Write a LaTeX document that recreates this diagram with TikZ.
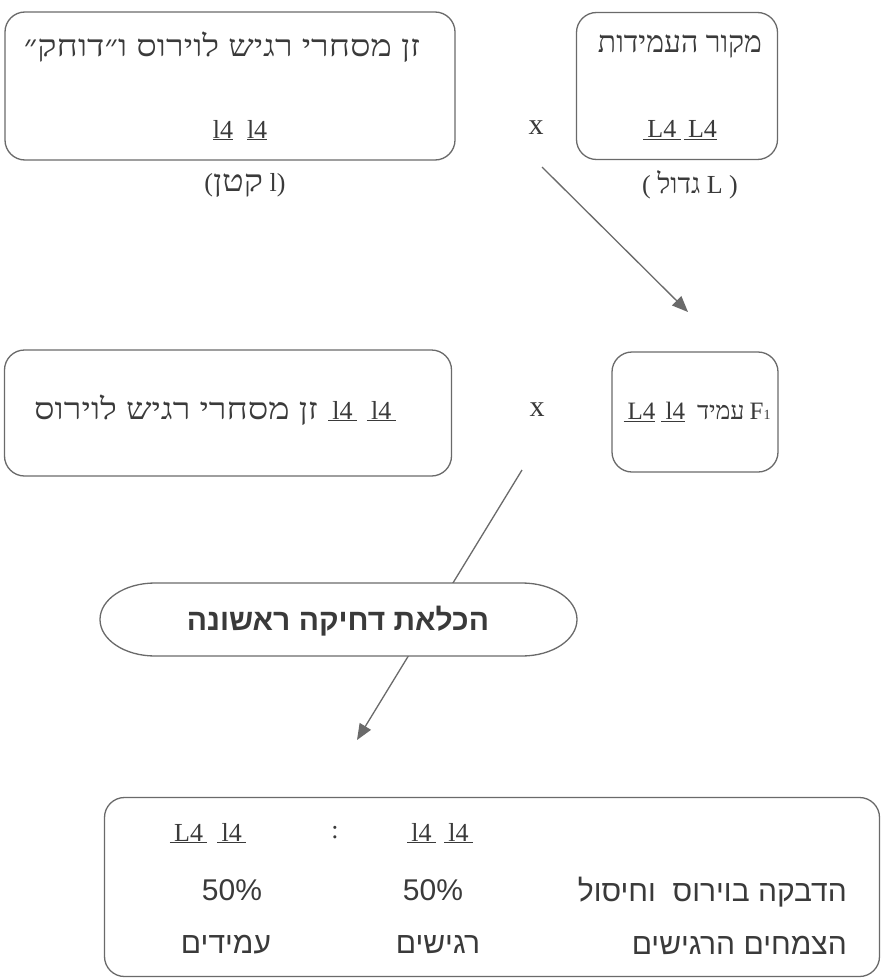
\documentclass[tikz,border=0pt]{standalone}
\usepackage{fontspec}
\setmainfont{Liberation Serif}
\newfontfamily\hebserif[Script=Hebrew]{Liberation Serif}
\newfontfamily\hebwide[Script=Hebrew, FakeStretch=1.2]{Liberation Serif}
\newfontfamily\hebsans[Script=Hebrew]{Liberation Sans}
\TeXXeTstate=1
\usetikzlibrary{arrows.meta}
\definecolor{ink}{HTML}{3A3A3A}
\definecolor{edge}{HTML}{6A6A6A}
\newcommand{\hbs}[1]{{\hebwide\fontsize{30}{34}\selectfont\beginR #1\endR}}
\newcommand{\hbn}[1]{{\hebserif\beginR #1\endR}}
\newcommand{\gul}[1]{\underline{#1}}
\begin{document}
\begin{tikzpicture}[x=1pt,y=-1pt,
  frame/.style={draw=edge, line width=1.3pt, rounded corners=20pt, inner sep=0pt},
  lbl/.style={text=ink, inner sep=0pt, font=\fontsize{26}{30}\selectfont},
  sans/.style={text=ink, inner sep=0pt, font=\fontsize{30}{34}\selectfont\hebsans},
  link/.style={draw=edge, line width=1.3pt},
  tip/.style={-{Triangle[length=16pt,width=13pt]}}
]
\fill[white] (0,0) rectangle (892,979);
\useasboundingbox (0,0) rectangle (892,979);

% top row
\node[frame, minimum width=450pt, minimum height=148pt] (b1) at (230,86) {};
\node[lbl] (t1) at (222,47) {\hbs{זן מסחרי רגיש לוירוס ו״דוחק״}};
\node[lbl] (t2) at (240,130) {\gul{l4}\hspace{14pt}\gul{l4}};
\node[frame, minimum width=201pt, minimum height=147pt] (b2) at (677,86) {};
\node[lbl, font=\fontsize{30}{34}\selectfont] (t3) at (680,47) {\hbn{מקור העמידות}};
\node[lbl] (t4) at (680,130) {\gul{\,L4\,}\hspace{3pt}\gul{\,L4}};
\node[lbl, font=\fontsize{30}{34}\selectfont] (x1) at (536,128) {x};
\node[lbl] (c1) at (245,185) {(\hbs{קטן} l)};
\node[lbl] (c2) at (690,185) {(\ {\fontsize{28}{32}\selectfont\hbn{גדול}} L )};

% arrow 1
\coordinate (a1s) at (542,167);
\coordinate (a1e) at (688,312);
\draw[link, tip] (a1s) -- (a1e);

% second row
\node[frame, minimum width=447pt, minimum height=126pt] (b3) at (228,413) {};
\node[lbl] (t5) at (215,410) {\hbs{זן מסחרי רגיש לוירוס}\hspace{10pt}\gul{\,l4\,}\hspace{10pt}\gul{\,l4\,}};
\node[frame, minimum width=166pt, minimum height=120pt] (b4) at (695,412) {};
\node[lbl, font=\fontsize{25}{29}\selectfont] (t6) at (697,412) {\gul{\,L4}\hspace{6pt}\gul{\,l4}\hspace{12pt}\hbn{עמיד}\hspace{5pt}F{\fontsize{14}{14}\selectfont 1}};
\node[lbl, font=\fontsize{30}{34}\selectfont] (x2) at (537,410) {x};

% line through the oval
\coordinate (a2s) at (522,470);
\coordinate (a2e) at (357,740);
\draw[link, tip] (a2s) -- (a2e);

% oval
\draw[edge, line width=1.3pt, fill=white]
  (155,583) -- (522,583) arc[start angle=-90, end angle=90, x radius=55, y radius=36.5]
  -- (155,656) arc[start angle=90, end angle=270, x radius=55, y radius=36.5] -- cycle;
\node[text=ink, inner sep=0pt, font=\fontsize{30}{34}\selectfont\hebsans\bfseries] (ov) at (338,621) {\beginR הכלאת דחיקה ראשונה\endR};

% bottom box
\node[frame, minimum width=775pt, minimum height=179pt] (b5) at (492,887) {};
\node[lbl] (r1) at (208,833) {\gul{\,L4\,}\hspace{10pt}\gul{\,l4\,}};
\node[lbl] (r2) at (335,833) {:};
\node[lbl] (r3) at (440,833) {\gul{\,l4\,}\hspace{8pt}\gul{\,l4\,}};
\node[sans] (p1) at (232,890) {50\%};
\node[sans] (p2) at (433,890) {50\%};
\node[sans, anchor=east] (h1) at (847,892) {\beginR הדבקה בוירוס\ \ וחיסול\endR};
\node[sans, anchor=east] (h2) at (847,945) {\beginR הצמחים הרגישים\endR};
\node[sans] (w1) at (226,945) {\beginR עמידים\endR};
\node[sans] (w2) at (438,945) {\beginR רגישים\endR};
\end{tikzpicture}
\end{document}
